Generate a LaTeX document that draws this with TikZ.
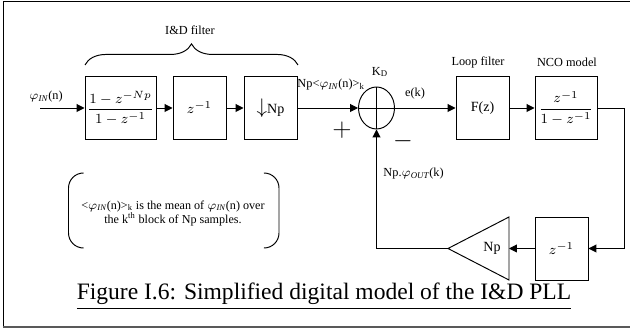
\documentclass[tikz,border=0pt]{standalone}
\usepackage{fontspec}
\setmainfont{Liberation Serif}
\usepackage{amsmath}
\usetikzlibrary{arrows.meta, positioning, shapes.geometric, decorations.pathreplacing}

\begin{document}
\begin{tikzpicture}[
    blockbox/.style={draw, minimum width=1.06cm, minimum height=1.26cm, inner sep=0pt, font=\fontsize{8}{9}\selectfont},
    lbl/.style={font=\fontsize{7}{8}\selectfont, inner sep=0pt},
    sign/.style={font=\fontsize{15}{15}\selectfont, inner sep=0pt},
    flow/.style={-{Triangle[length=4.5pt, width=4.5pt]}},
    line width=0.55pt]
    \useasboundingbox (0,0) rectangle (12.6,6.58);

    % Frame
    \draw[line width=0.5pt] (12.7,6.55) -- (0.06,6.55) -- (0.06,0.04);
    \draw[line width=1.2pt, black!65] (0.06,0.04) -- (12.7,0.04);

    % I&D filter
    \node[blockbox, minimum width=1.42cm] (intg) at (2.41,4.42) {$\dfrac{1-z^{-Np}}{1-z^{-1}}$};
    \node[blockbox] (dly) at (3.99,4.42) {$z^{-1}$};
    \node[blockbox] (dec) at (5.41,4.42) {{\large$\downarrow$}Np};
    \draw[decorate, decoration={brace, amplitude=12pt}] (1.70,5.28) -- (5.96,5.28);
    \node[lbl] (idlbl) at (3.80,5.98) {I\&D filter};
    \coordinate (phin) at (0.80,4.42);
    \node[lbl] (phinlbl) at (0.92,4.64) {$\varphi_{\mathit{IN}}$(n)};

    % Phase detector
    \node[draw, ellipse, minimum width=0.72cm, minimum height=0.84cm, inner sep=0pt] (sum) at (7.53,4.42) {};
    \draw (sum.north) -- (sum.south);
    \draw (sum.west) -- (sum.east);
    \node[lbl] (kd) at (7.60,5.14) {K\textsubscript{D}};
    \node[lbl, anchor=west] (avg) at (5.94,4.88) {Np<$\varphi_{\mathit{IN}}$(n)>\textsubscript{k}};
    \node[sign] (plus) at (6.84,3.98) {$+$};
    \node[sign] (minus) at (8.06,3.76) {$-$};
    \node[lbl] (err) at (8.30,4.70) {e(k)};

    % Loop filter and NCO
    \node[blockbox] (lf) at (9.65,4.42) {F(z)};
    \node[lbl] (lflbl) at (9.56,5.34) {Loop filter};
    \node[blockbox, minimum width=1.24cm] (nco) at (11.32,4.42) {$\dfrac{z^{-1}}{1-z^{-1}}$};
    \node[lbl] (ncolbl) at (11.34,5.34) {NCO model};
    \coordinate (turn) at (12.48,4.42);

    % Feedback path
    \node[blockbox] (fbdly) at (11.23,1.61) {$z^{-1}$};
    \draw (10.18,2.24) -- (10.18,0.98) -- (8.96,1.61) -- cycle;
    \coordinate (ampin) at (10.18,1.61);
    \coordinate (ampout) at (8.96,1.61);
    \node[lbl, font=\fontsize{8}{9}\selectfont] (gain) at (9.84,1.61) {Np};
    \node[lbl, anchor=west] (fblbl) at (7.66,3.10) {Np.$\varphi_{\mathit{OUT}}$(k)};

    % Connections
    \draw[flow] (phin) -- (intg);
    \draw[flow] (intg) -- (dly);
    \draw[flow] (dly) -- (dec);
    \draw[flow] (dec) -- (sum);
    \draw[flow] (sum) -- (lf);
    \draw[flow] (lf) -- (nco);
    \draw[flow] (nco) -- (turn) |- (fbdly);
    \draw[flow] (fbdly) -- (ampin);
    \draw[flow] (ampout) -| (sum);

    % Note
    \draw[rounded corners=0.3cm] (1.62,3.12) -- (1.37,3.12) -- (1.37,1.62) -- (1.62,1.62);
    \draw[rounded corners=0.3cm] (5.30,3.12) -- (5.58,3.12) -- (5.58,1.62) -- (5.30,1.62);
    \node[lbl, font=\fontsize{6.9}{8.5}\selectfont, align=center] (note) at (3.46,2.31)
        {<$\varphi_{\mathit{IN}}$(n)>\textsubscript{k} is the mean of $\varphi_{\mathit{IN}}$(n) over\\
         the k\textsuperscript{th} block of Np samples.};

    % Caption
    \node[font=\fontsize{13.4}{16}\selectfont, anchor=base] (cap) at (6.48,0.58)
        {\underline{Figure I.6: Simplified digital model of the I\&D PLL}};
\end{tikzpicture}
\end{document}
